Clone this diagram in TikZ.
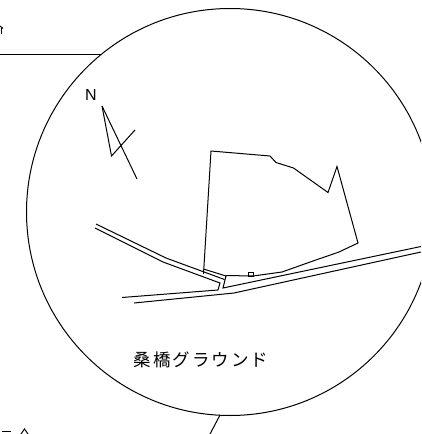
\documentclass[tikz,border=0pt]{standalone}
\usepackage{fontspec}
\newfontfamily\cjk{Noto Sans CJK JP}
\setmainfont{Liberation Sans}
\tikzset{ln/.style={draw=black,line width=1pt,line join=miter},lbl/.style={inner sep=0pt,text=black}}
\begin{document}
\begin{tikzpicture}[x=1pt,y=-1pt]
\path[use as bounding box] (0,0) rectangle (421,434);
\begin{scope}
\clip (0,0) rectangle (421,434);
\coordinate (cc) at (230,212);
\draw[ln] (cc) circle (203.5);
\coordinate (ta) at (0,54); \coordinate (tb) at (101,54);
\draw[ln] (ta) -- (tb);
\coordinate (ba) at (220,415); \coordinate (bb) at (209,436);
\draw[ln] (ba) -- (bb);
% north arrow
\draw[ln] (102,106) -- (111.5,156) -- (135,130);
\draw[ln] (102,106) -- (137,179);
% ground
\draw[ln] (203.5,274) -- (211,151) -- (270,156) -- (276,162.5) -- (293.5,168) -- (328,192.5) -- (337,166.5) -- (358,243) -- (339,252) -- (313,261) -- (282,272) -- (253,276) -- (226,275.5);
\draw[ln] (203.5,269) -- (226,276) -- (223,288) -- (421,246.5);
\draw[ln] (248,272) rectangle (253,276);
% roads
\draw[ln] (96,224) -- (166,258) -- (224.5,279.5);
\draw[ln] (95,228) -- (163,262) -- (220,283) -- (218,290) -- (122,297.5);
\draw[ln] (134,303) -- (234,293) -- (421,252);
% cut-off glyph fragments at the picture edges
\draw[line width=1pt] (0,26) -- (3,28.5);
\draw[line width=1pt] (1.5,28) -- (1.5,34);
\draw[line width=1pt] (2,431) -- (11,431);
\draw[line width=1pt] (21,434) -- (24.5,429) -- (28,434);
\end{scope}
\node[lbl,font=\fontsize{16}{16}\selectfont,anchor=center] (nn) at (91,94.5) {N};
\node[lbl,font=\cjk\fontsize{17.5}{17.5}\selectfont,anchor=center] (gg) at (201,360) {桑\kern2pt 橋\kern2pt グ\kern2pt ラ\kern2pt ウ\kern2pt ン\kern2pt ド};
\end{tikzpicture}
\end{document}
